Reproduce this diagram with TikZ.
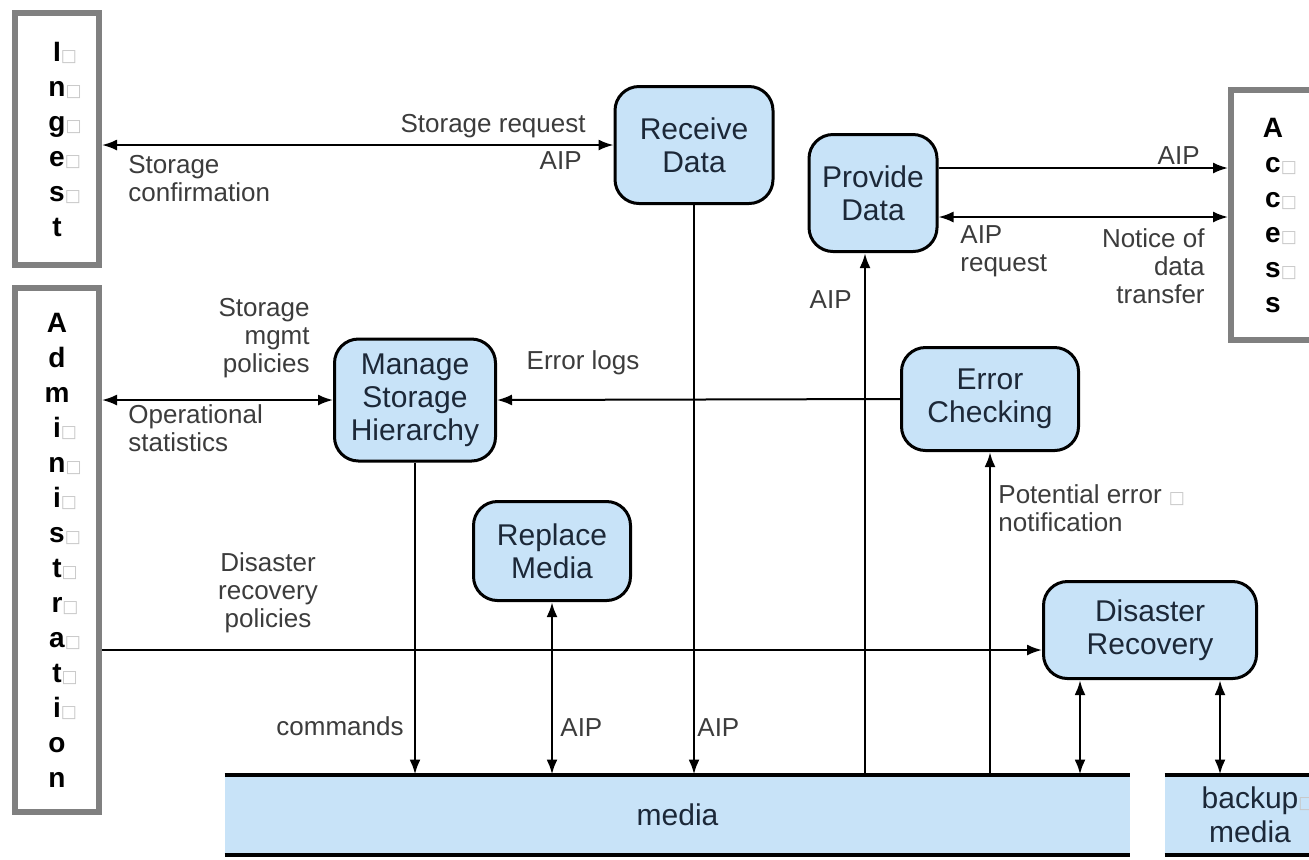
\documentclass[tikz,border=0pt]{standalone}
\usepackage{fontspec}
\setmainfont{Liberation Sans}
\newfontfamily\tofufont{DejaVu Sans}
\usetikzlibrary{arrows.meta}
\definecolor{procblue}{RGB}{200,227,248}
\definecolor{edgegray}{RGB}{128,128,128}
\definecolor{labelgray}{RGB}{60,60,60}
\definecolor{procink}{RGB}{28,40,56}
\newcommand{\tofu}{\textcolor{black!22}{\tofufont\fontsize{8.5}{8.5}\selectfont □}}
\newcommand{\ltr}[1]{#1\rlap{\tofu}}
\tikzset{
  oais/.style={x=0.5pt,y=-0.5pt,font=\fontsize{13}{14}\selectfont},
  proc/.style={draw,line width=1.5pt,rounded corners=12pt,fill=procblue,text=procink,
    align=center,inner sep=0pt,font=\fontsize{15}{16.5}\selectfont},
  entity/.style={draw=edgegray,line width=3pt,fill=white,align=center,inner sep=0pt,
    minimum width=42pt,font=\bfseries\fontsize{14}{17.5}\selectfont},
  store/.style={fill=procblue,text=procink,inner sep=0pt,align=center,
    minimum height=40pt,font=\fontsize{15}{17}\selectfont},
  lbl/.style={text=labelgray,inner sep=0pt},
  tip/.tip={Latex[length=7.5pt,width=5.5pt]},
  flow/.style={line width=1pt,-tip},
  duplex/.style={line width=1pt,tip-tip},
  feed/.style={line width=1.4pt,-tip},
  feedduplex/.style={line width=1.4pt,tip-tip},
  mediaedge/.style={line width=2pt},
}

\begin{document}
\begin{tikzpicture}[oais]
    \useasboundingbox[fill=white] (0,0) rectangle (1309,859);
    % outside entities
    \node[entity,minimum height=126pt] (ingest) at (57,139)
      {\ltr{I}\\\ltr{n}\\\ltr{g}\\\ltr{e}\\\ltr{s}\\t};
    \node[entity,minimum height=262pt] (admin) at (57,550)
      {A\\d\\m\\\ltr{i}\\\ltr{n}\\\ltr{i}\\\ltr{s}\\\ltr{t}\\\ltr{r}\\\ltr{a}\\\ltr{t}\\\ltr{i}\\o\\n};
    \node[entity,minimum height=125pt] (access) at (1273,215)
      {A\\\ltr{c}\\\ltr{c}\\\ltr{e}\\\ltr{s}\\s};
    % functions
    \node[proc,minimum width=79pt,minimum height=58.5pt] (receive) at (694,145) {Receive\\Data};
    \node[proc,minimum width=64pt,minimum height=58.5pt] (provide) at (873,193) {Provide\\Data};
    \node[proc,minimum width=80.5pt,minimum height=61pt] (msh) at (415,400) {Manage\\Storage\\Hierarchy};
    \node[proc,minimum width=78.5pt,minimum height=49.5pt] (replace) at (552,551) {Replace\\Media};
    \node[proc,minimum width=88.5pt,minimum height=51.5pt] (errchk) at (990,399) {Error\\Checking};
    \node[proc,minimum width=106.5pt,minimum height=48.5pt] (recover) at (1150,630) {Disaster\\Recovery};
    % storage
    \node[store,minimum width=452.5pt] (media) at (677.5,815) {media};
    \node[store,minimum width=85pt] (backup) at (1250,815) {backup\rlap{\tofu}\\media};
    \draw[mediaedge] (media.north west) -- (media.north east);
    \draw[mediaedge] (media.south west) -- (media.south east);
    \draw[mediaedge] (backup.north west) -- (backup.north east);
    \draw[mediaedge] (backup.south west) -- (backup.south east);
    % flows
    \coordinate (pdout) at ([yshift=12.5pt]provide.east);
    \coordinate (pdin) at ([yshift=-12pt]provide.east);
    \coordinate (pdfoot) at ([xshift=-4pt]provide.south);
    \coordinate (drin) at ([yshift=-10pt]recover.west);
    \coordinate (drl) at ([xshift=-35pt]recover.south);
    \coordinate (drr) at ([xshift=35pt]recover.south);
    \draw[duplex] (ingest.east |- receive.west) -- (receive.west);
    \draw[flow] (pdout) -- (pdout -| access.west);
    \draw[duplex] (pdin) -- (pdin -| access.west);
    \draw[duplex] (admin.east |- msh.west) -- (msh.west);
    \draw[flow] (errchk.west) -- (msh.east);
    \draw[flow] (admin.east |- drin) -- (drin);
    \draw[feed] (msh.south) -- (msh.south |- media.north);
    \draw[feedduplex] (replace.south) -- (replace.south |- media.north);
    \draw[feed] (receive.south) -- (receive.south |- media.north);
    \draw[feed] (pdfoot |- media.north) -- (pdfoot);
    \draw[feed] (errchk.south |- media.north) -- (errchk.south);
    \draw[feedduplex] (drl) -- (drl |- media.north);
    \draw[feedduplex] (drr) -- (drr |- backup.north);
    % labels
    \node[lbl,anchor=east] (lsreq) at (586,126) {Storage request};
    \node[lbl,anchor=east] (lraip) at (582,161) {AIP};
    \node[lbl,anchor=west,align=left] (lconf) at (128,179) {Storage\\confirmation};
    \node[lbl,anchor=east] (lpaip) at (1200,156) {AIP};
    \node[lbl,anchor=west,align=left] (lareq) at (960,251) {AIP\\request};
    \node[lbl,anchor=east,align=right] (lnotice) at (1205,266) {Notice of\\data\\transfer};
    \node[lbl,anchor=east] (lupaip) at (852,300) {AIP};
    \node[lbl,anchor=east,align=right] (lpol) at (310,338) {Storage\\mgmt\\policies};
    \node[lbl,anchor=west,align=left] (lstat) at (128,428) {Operational\\statistics};
    \node[lbl] (lerr) at (583,363) {Error logs};
    \node[lbl,align=center] (ldrp) at (268,593) {Disaster\\recovery\\policies};
    \node[lbl,anchor=east] (lcmd) at (404,726) {commands};
    \node[lbl,anchor=west] (lrmaip) at (560,728) {AIP};
    \node[lbl,anchor=west] (lrdaip) at (697,728) {AIP};
    \node[lbl,anchor=west,align=left] (lpot) at (998,508) {Potential error \tofu\\notification};
  \end{tikzpicture}
\end{document}
